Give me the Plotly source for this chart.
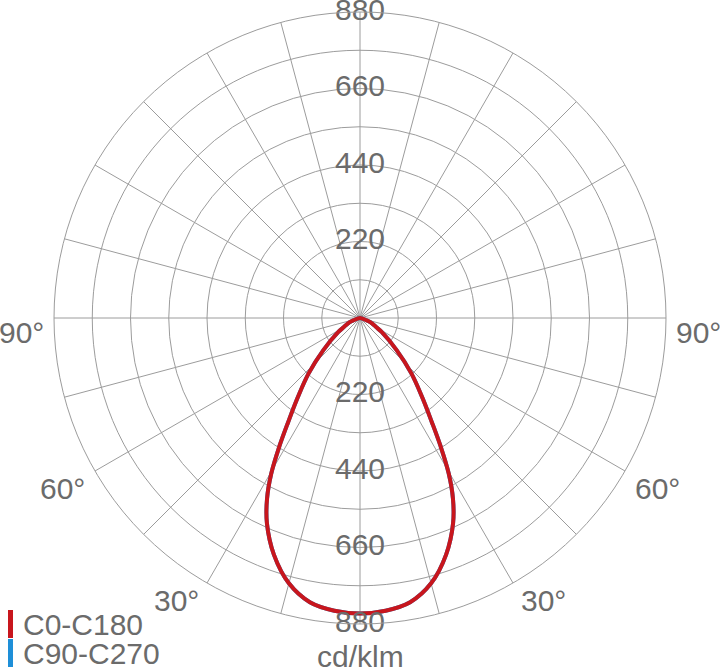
import math
import plotly.graph_objects as go

# ---- data ----
gamma = [0, 5, 10, 15, 20, 24.4, 27.2, 29.7, 32.1, 34.6, 38, 42.8, 48.8, 57.2, 61, 68, 72, 80, 90]
c0_c180 = [850, 845, 830, 790, 724, 648, 585, 515, 437, 364, 292, 218, 140, 74, 52, 32, 16, 5, 0]
c90_c270 = [850, 845, 830, 790, 724, 648, 585, 515, 437, 364, 292, 218, 140, 74, 52, 32, 16, 5, 0]
series_names = ["C0-C180", "C90-C270"]
series_colors = ["#c8161d", "#1e8fd8"]
radial_ticks = [220, 440, 660, 880]
radial_tick_labels = ["220", "440", "660", "880"]
angle_label_text = ["90°", "60°", "30°"]
angle_label_theta = [87.5, 60.2, 33.0]
angle_label_r = [975, 987, 970]
unit_label = "cd/klm"

TEXT_COLOR = "#6b6b6b"
FONT = "Liberation Sans, Arial, sans-serif"
FS = 30


def mirror(g, v):
    th = [-x for x in reversed(g)] + g[1:]
    rr = list(reversed(v)) + v[1:]
    return th, rr


fig = go.Figure()

for name, vals, col in [(series_names[1], c90_c270, series_colors[1]),
                        (series_names[0], c0_c180, series_colors[0])]:
    th, rr = mirror(gamma, vals)
    fig.add_trace(go.Scatterpolar(
        r=rr, theta=th, mode="lines", name=name,
        line=dict(color=col, width=4, shape="spline", smoothing=1.0),
        showlegend=False, hoverinfo="skip"))

# radial tick labels on the vertical axis (top and bottom)
fig.add_trace(go.Scatterpolar(
    r=radial_ticks + radial_ticks,
    theta=[180] * len(radial_ticks) + [0] * len(radial_ticks),
    text=radial_tick_labels + radial_tick_labels,
    mode="text", textposition="middle center", cliponaxis=False,
    textfont=dict(size=FS, color=TEXT_COLOR, family=FONT),
    showlegend=False, hoverinfo="skip"))

GRID = "#9c9c9c"
W, H = 720, 670
cx, cy, R = 360, 318, 306
RMAX = 880

fig.update_layout(
    width=W, height=H,
    margin=dict(l=0, r=0, t=0, b=0),
    paper_bgcolor="white",
    showlegend=False,
    polar=dict(
        domain=dict(x=[(cx - R) / W, (cx + R) / W],
                    y=[(H - cy - R) / H, (H - cy + R) / H]),
        bgcolor="white",
        radialaxis=dict(range=[0, RMAX], dtick=110, tick0=0,
                        showticklabels=False, ticks="", showline=False,
                        gridcolor=GRID, gridwidth=1),
        angularaxis=dict(rotation=270, direction="counterclockwise",
                         dtick=15, showticklabels=False, ticks="",
                         showline=True, linecolor=GRID, linewidth=1,
                         gridcolor=GRID, gridwidth=1),
    ),
)


def polar_to_paper(r, theta_deg):
    rp = r / RMAX * R
    t = math.radians(theta_deg)
    px = cx + rp * math.sin(t)
    py = cy + rp * math.cos(t)
    return px / W, (H - py) / H


# angle labels outside the circle (both sides) and unit label
labels = []
for txt, th, r in zip(angle_label_text, angle_label_theta, angle_label_r):
    labels.append((txt, th, r))
    labels.append((txt, -th, r))
labels.append((unit_label, 0, 973))
for txt, th, r in labels:
    x, y = polar_to_paper(r, th)
    fig.add_annotation(xref="paper", yref="paper", x=x, y=y,
                       xanchor="center", yanchor="middle", showarrow=False,
                       text=txt, font=dict(size=FS, color=TEXT_COLOR, family=FONT))

# legend drawn as colored bars and labels
legend_y = [624, 653]
for name, col, ly in zip(series_names, series_colors, legend_y):
    fig.add_shape(type="rect", xref="paper", yref="paper",
                  x0=8 / W, x1=13 / W,
                  y0=(H - ly - 14) / H, y1=(H - ly + 14) / H,
                  fillcolor=col, line=dict(width=0))
    fig.add_annotation(xref="paper", yref="paper", x=21 / W, y=(H - ly) / H,
                       xanchor="left", yanchor="middle", showarrow=False,
                       text=name, font=dict(size=FS, color=TEXT_COLOR, family=FONT))

fig.write_html("out.html", config={"displayModeBar": False},
               post_script="document.body.style.margin='0';document.body.style.overflow='hidden';")
